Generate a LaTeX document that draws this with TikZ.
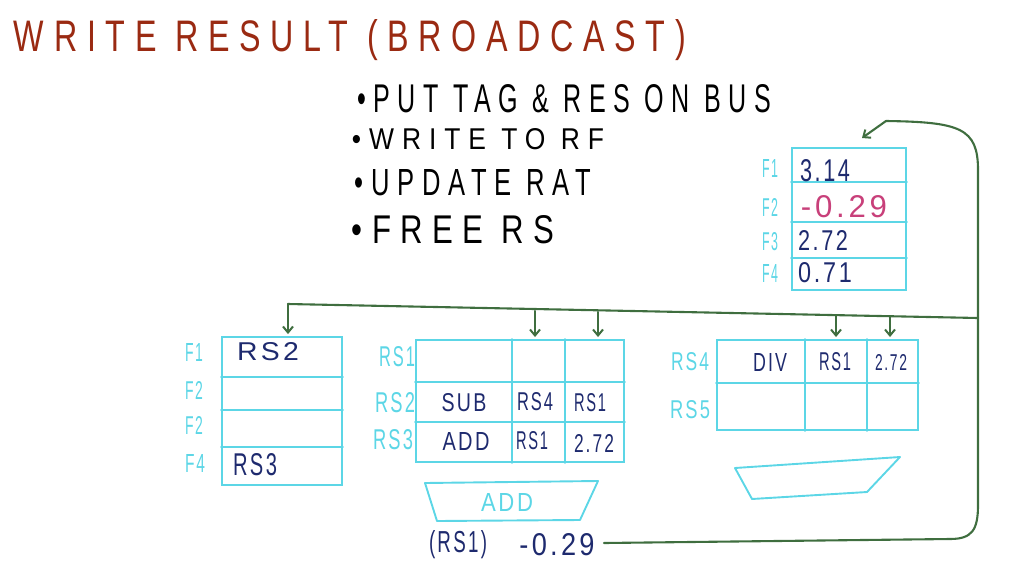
\documentclass[tikz,border=0pt]{standalone}
\usepackage{fontspec}
\setmainfont{Liberation Sans}
\newfontfamily\hand[LetterSpace=12]{Liberation Sans}
\newfontfamily\handw[LetterSpace=30]{Liberation Sans}
\usetikzlibrary{arrows.meta}
\definecolor{cy}{HTML}{5CD6E6}
\definecolor{navy}{HTML}{1E2A6E}
\definecolor{mag}{HTML}{C8407A}
\definecolor{grn}{HTML}{3F6E3F}
\definecolor{ttl}{HTML}{9A2A12}
\newcommand\fitt[3]{\resizebox{#1pt}{#2pt}{\hand #3}}
\newcommand\fitw[3]{\resizebox{#1pt}{#2pt}{\handw #3}}
\begin{document}
\begin{tikzpicture}[x=1pt,y=-1pt,
  tbl/.style={draw=cy, line width=1.9pt, inner sep=0pt},
  grid/.style={draw=cy, line width=1.9pt, line cap=round},
  bus/.style={draw=grn, line width=2.1pt, line join=round, line cap=round},
  tip/.style={bus, shorten >=2pt, -{Straight Barb[length=6pt,width=10pt,line width=2pt]}},
  lab/.style={text=cy, inner sep=0pt},
  val/.style={text=navy, inner sep=0pt},
  ink/.style={text=black, inner sep=0pt}]
\useasboundingbox (0,0) rectangle (1012,587);

% title and bullets
\node[text=ttl, inner sep=0pt] (title) at (350,40) {\fitw{672}{32}{WRITE RESULT (BROADCAST)}};
\node[ink] (b1) at (564,99) {\fitw{414}{28}{\textbullet PUT TAG \& RES ON BUS}};
\node[ink] (b2) at (478,139) {\fitw{252}{21}{\textbullet WRITE TO RF}};
\node[ink] (b3) at (473,183) {\fitw{236}{26}{\textbullet UPDATE RAT}};
\node[ink] (b4) at (453,230) {\fitw{202}{28}{\textbullet FREE RS}};

% register file
\node[tbl, minimum width=114pt, minimum height=142pt] (rf) at (849,219) {};
\draw[grid] (rf.west |- 0,182) -- (rf.east |- 0,182);
\draw[grid] (rf.west |- 0,222) -- (rf.east |- 0,222);
\draw[grid] (rf.west |- 0,258) -- (rf.east |- 0,258);
\node[lab] (rfl1) at (770,168) {\fitt{16}{18}{F1}};
\node[lab] (rfl2) at (770,207) {\fitt{16}{18}{F2}};
\node[lab] (rfl3) at (770,242) {\fitt{16}{18}{F3}};
\node[lab] (rfl4) at (770,273) {\fitt{16}{18}{F4}};
\node[val] (rfv1) at (825,171) {\fitt{50}{22}{3.14}};
\node[text=mag, inner sep=0pt] (rfv2) at (844,207) {\fitt{86}{22}{-0.29}};
\node[val] (rfv3) at (823,240) {\fitt{50}{20}{2.72}};
\node[val] (rfv4) at (825,273) {\fitt{54}{20}{0.71}};

% RAT
\node[tbl, minimum width=120pt, minimum height=148pt] (rat) at (282,411) {};
\draw[grid] (rat.west |- 0,377) -- (rat.east |- 0,377);
\draw[grid] (rat.west |- 0,410) -- (rat.east |- 0,410);
\draw[grid] (rat.west |- 0,447) -- (rat.east |- 0,447);
\node[lab] (ratl1) at (194,352) {\fitt{18}{18}{F1}};
\node[lab] (ratl2) at (194,390) {\fitt{18}{18}{F2}};
\node[lab] (ratl3) at (194,425) {\fitt{18}{18}{F2}};
\node[lab] (ratl4) at (195,463) {\fitt{20}{18}{F4}};
\node[val] (ratv1) at (268,352) {\fitt{62}{18}{RS2}};
\node[val] (ratv4) at (255,465) {\fitt{44}{22}{RS3}};

% add reservation stations
\node[tbl, minimum width=208pt, minimum height=122pt] (rsa) at (520,401) {};
\draw[grid] (rsa.west |- 0,382) -- (rsa.east |- 0,382);
\draw[grid] (rsa.west |- 0,422) -- (rsa.east |- 0,422);
\draw[grid] (rsa.north -| 512,0) -- (rsa.south -| 512,0);
\draw[grid] (rsa.north -| 565,0) -- (rsa.south -| 565,0);
\node[lab] (rsal1) at (397,357) {\fitt{36}{20}{RS1}};
\node[lab] (rsal2) at (395,403) {\fitt{40}{20}{RS2}};
\node[lab] (rsal3) at (393,440) {\fitt{40}{20}{RS3}};
\node[val] (sub) at (464,403) {\fitt{45}{18}{SUB}};
\node[val] (rs4a) at (535,402) {\fitt{36}{18}{RS4}};
\node[val] (rs1a) at (590,403) {\fitt{32}{18}{RS1}};
\node[val] (adda) at (466,441) {\fitt{47}{18}{ADD}};
\node[val] (rs1b) at (532,441) {\fitt{32}{18}{RS1}};
\node[val] (v272a) at (594,443) {\fitt{40}{18}{2.72}};

% adder unit
\draw[grid, line join=round] (425,483) -- (598,481) -- (580,520) -- (437,521) -- cycle;
\node[lab] (addu) at (507,502) {\fitt{52}{18}{ADD}};
\node[val] (tag) at (458,545) {\fitt{58}{22}{(RS1)}};
\node[val] (res) at (557,545) {\fitt{75}{22}{-0.29}};

% div reservation stations
\node[tbl, minimum width=201pt, minimum height=90pt] (rsd) at (817.5,385) {};
\draw[grid] (rsd.west |- 0,383) -- (rsd.east |- 0,383);
\draw[grid] (rsd.north -| 805,0) -- (rsd.south -| 805,0);
\draw[grid] (rsd.north -| 867,0) -- (rsd.south -| 867,0);
\node[lab] (rsdl4) at (690,362) {\fitt{38}{18}{RS4}};
\node[lab] (rsdl5) at (690,410) {\fitt{40}{18}{RS5}};
\node[val] (div) at (770,362) {\fitt{34}{18}{DIV}};
\node[val] (rs1d) at (835,362) {\fitt{32}{18}{RS1}};
\node[val] (v272d) at (891,362) {\fitt{32}{16}{2.72}};

% divider unit
\draw[grid, line join=round] (735,468) -- (900,457) -- (867,492) -- (752,499) -- cycle;

% broadcast bus
\coordinate (busL) at (288,304);
\coordinate (busR) at (978,318);
\coordinate (ret) at (604,543);
\coordinate (rfin) at (862,138);
\coordinate (t1) at (535,311);
\coordinate (t2) at (598,312);
\coordinate (t3) at (836,316);
\coordinate (t4) at (890,317);
\draw[bus] (busL) -- (busR);
\draw[tip] (busL) -- (busL |- rat.north);
\draw[tip] (t1) -- (t1 |- rsa.north);
\draw[tip] (t2) -- (t2 |- rsa.north);
\draw[tip] (t3) -- (t3 |- rsd.north);
\draw[tip] (t4) -- (t4 |- rsd.north);
\draw[bus] (ret) -- (950,539) .. controls (972,539) and (978,530) .. (978,505) -- (978,170)
  .. controls (978,128) and (960,122) .. (886,121);
\draw[tip, shorten >=0pt] (886,121) -- (rfin);
\end{tikzpicture}
\end{document}
